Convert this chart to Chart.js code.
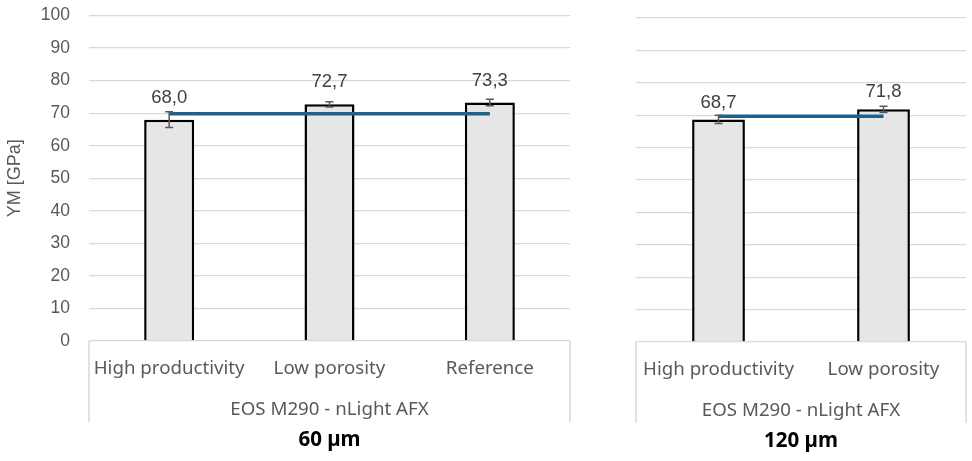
<!DOCTYPE html>
<html>
<head>
<meta charset="utf-8">
<script src="https://cdn.jsdelivr.net/npm/chart.js@4.4.1/dist/chart.umd.min.js"></script>
<style>
body { margin: 0; background: #fff; }
#wrap { position: relative; width: 972px; height: 461px; }
canvas { position: absolute; top: 0; }
</style>
</head>
<body>
<div id="wrap">
    <canvas id="Left" style="left:0"></canvas>
    <canvas id="Right" style="left:575px"></canvas>
</div>
<script>
const leftLabels = ['High productivity', 'Low porosity', 'Reference'];
const leftValues = [68.0, 72.7, 73.3];
const leftErrors = [2.4, 0.8, 1.0];
const leftLine = [69.8, 69.8, 69.8];

const rightLabels = ['High productivity', 'Low porosity'];
const rightValues = [68.7, 71.8];
const rightErrors = [1.3, 1.0];
const rightLine = [69.7, 69.7];

const machine = 'EOS M290 - nLight AFX';
const layers = ['60 µm', '120 µm'];
const yTicks = { min: 0, max: 100, step: 10 };

const numFont = { family: 'Liberation Sans, Arial, sans-serif', size: 17.5 };
const labelFont = { family: 'Liberation Sans, Arial, sans-serif', size: 18.5 };
const catFont = { family: 'Noto Sans, sans-serif', size: 18.7 };

// error bars, value labels and the category box
const extras = {
    id: 'extras',
    afterDatasetsDraw(chart, args, opts) {
        const c = chart.ctx;
        const y = chart.scales.y;
        const meta = chart.getDatasetMeta(0);
        const values = chart.data.datasets[0].data;
        c.save();
        c.strokeStyle = '#595959';
        c.lineWidth = 1.5;
        meta.data.forEach(function(bar, i) {
            const hi = y.getPixelForValue(values[i] + opts.errors[i]);
            const lo = y.getPixelForValue(values[i] - opts.errors[i]);
            c.beginPath();
            c.moveTo(bar.x, hi); c.lineTo(bar.x, lo);
            c.moveTo(bar.x - 4, hi); c.lineTo(bar.x + 4, hi);
            c.moveTo(bar.x - 4, lo); c.lineTo(bar.x + 4, lo);
            c.stroke();
        });
        c.fillStyle = '#404040';
        c.font = labelFont.size + 'px ' + labelFont.family;
        c.textAlign = 'center';
        c.textBaseline = 'middle';
        meta.data.forEach(function(bar, i) {
            const txt = values[i].toFixed(1).replace('.', ',');
            c.fillText(txt, bar.x, y.getPixelForValue(values[i]) - opts.labelOffset);
        });
        const a = chart.chartArea;
        c.strokeStyle = '#d9d9d9';
        c.lineWidth = 1.5;
        c.beginPath();
        c.moveTo(a.left, a.bottom); c.lineTo(a.left, a.bottom + 81);
        c.moveTo(a.right, a.bottom); c.lineTo(a.right, a.bottom + 81);
        c.stroke();
        c.restore();
    }
};

function makePanel(id, width, labels, values, errors, line, layer, cfg) {
    const canvas = document.getElementById(id);
    canvas.width = width;
    canvas.height = 461;
    return new Chart(canvas, {
        type: 'bar',
        data: {
            labels: labels,
            datasets: [{
                data: values,
                backgroundColor: '#e7e6e6',
                borderColor: '#000',
                borderWidth: 2.5,
                categoryPercentage: 1,
                barPercentage: cfg.barPct,
                order: 1
            }, {
                type: 'line',
                data: line,
                borderColor: '#1f6289',
                borderWidth: 3.5,
                pointRadius: 0,
                fill: false,
                order: 0
            }]
        },
        options: {
            responsive: false,
            animation: false,
            layout: { padding: { top: cfg.top, right: cfg.right, left: 0, bottom: 0 } },
            plugins: {
                legend: { display: false },
                tooltip: { enabled: false },
                extras: { errors: errors, labelOffset: cfg.labelOffset }
            },
            scales: {
                y: {
                    min: yTicks.min,
                    max: yTicks.max,
                    ticks: { stepSize: yTicks.step, display: cfg.showY, font: numFont, color: '#595959', padding: 0 },
                    grid: { color: '#d9d9d9', lineWidth: 1.3, drawTicks: true, tickLength: 19, tickColor: 'transparent' },
                    border: { display: false },
                    title: { display: cfg.showY, text: 'YM [GPa]', font: { family: numFont.family, size: 18 }, color: '#595959', padding: { top: 4, bottom: 0 } },
                    afterFit: function(s) { s.width = cfg.yWidth; }
                },
                x: {
                    weight: 0,
                    grid: { display: false, drawTicks: false },
                    border: { display: false },
                    ticks: { font: catFont, color: '#595959', padding: 16, autoSkip: false, maxRotation: 0 },
                    afterFit: function(s) { s.height = 50; }
                },
                x2: {
                    type: 'category',
                    labels: [machine],
                    position: 'bottom',
                    weight: 1,
                    grid: { display: false, drawTicks: false },
                    border: { display: false },
                    ticks: { font: catFont, color: '#595959', padding: 7, maxRotation: 0 },
                    afterFit: function(s) { s.height = 30; }
                },
                x3: {
                    type: 'category',
                    labels: [layer],
                    position: 'bottom',
                    weight: 2,
                    grid: { display: false, drawTicks: false },
                    border: { display: false },
                    ticks: { font: { family: catFont.family, size: 20.5, weight: 'bold' }, color: '#000', padding: 7, maxRotation: 0 },
                    afterFit: function(s) { s.height = cfg.lastHeight; }
                }
            }
        },
        plugins: [extras]
    });
}

makePanel('Left', 575, leftLabels, leftValues, leftErrors, leftLine, layers[0],
    { barPct: 0.312, top: 15.5, right: 5, yWidth: 89, showY: true, labelOffset: 22, lastHeight: 40 });
makePanel('Right', 397, rightLabels, rightValues, rightErrors, rightLine, layers[1],
    { barPct: 0.32, top: 18, right: 6, yWidth: 61, showY: false, labelOffset: 17, lastHeight: 39 });
</script>
</body>
</html>
